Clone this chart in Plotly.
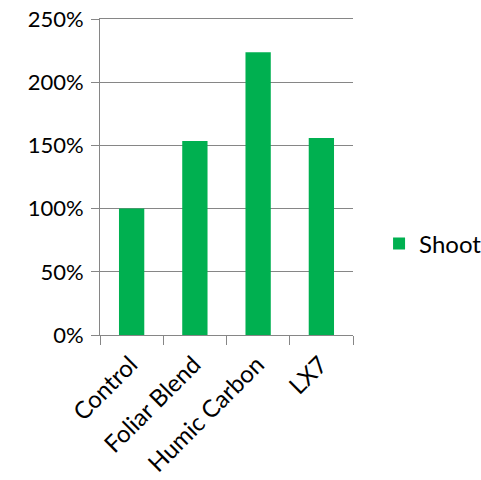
import plotly.graph_objects as go

categories = ["Control", "Foliar Blend", "Humic Carbon", "LX7"]
shoot = [1.00, 1.535, 2.237, 1.558]
y_ticks = [0, 0.5, 1.0, 1.5, 2.0, 2.5]
y_tick_labels = ["0%", "50%", "100%", "150%", "200%", "250%"]

font_family = "Lato, 'Open Sans', sans-serif"
grey = "#868686"

fig = go.Figure()
fig.add_trace(go.Bar(x=categories, y=shoot, name="Shoot",
                     marker=dict(color="#00B050", line=dict(width=0))))

fig.update_layout(
    width=481, height=480,
    margin=dict(l=100, r=128, t=19, b=145, autoexpand=False),
    paper_bgcolor="white", plot_bgcolor="white",
    bargap=0.6,
    showlegend=True,
    font=dict(family=font_family, size=22, color="#000000"),
    legend=dict(x=1.103, xanchor="left", y=0.288, yanchor="middle",
                font=dict(size=24), itemwidth=30, bgcolor="rgba(0,0,0,0)"),
    xaxis=dict(type="category", tickangle=-45, tickson="boundaries",
               ticks="outside", ticklen=9, tickcolor=grey, tickwidth=1,
               showline=True, linecolor=grey, linewidth=1, mirror=True,
               showgrid=False, tickfont=dict(size=24),
               ticklabelstandoff=5, ticklabelshift=-1,
               ticklabeloverflow="allow"),
    yaxis=dict(range=[0, 2.5], tickvals=y_ticks, ticktext=y_tick_labels,
               ticks="outside", ticklen=8, tickcolor=grey, tickwidth=1,
               showline=True, linecolor=grey, linewidth=1,
               showgrid=True, gridcolor=grey, gridwidth=1,
               zeroline=False, ticklabelstandoff=3, tickfont=dict(size=22),
               ticklabeloverflow="allow"),
)

fig.write_html("out.html", config={"displayModeBar": False},
               post_script="document.body.style.margin='0';")
